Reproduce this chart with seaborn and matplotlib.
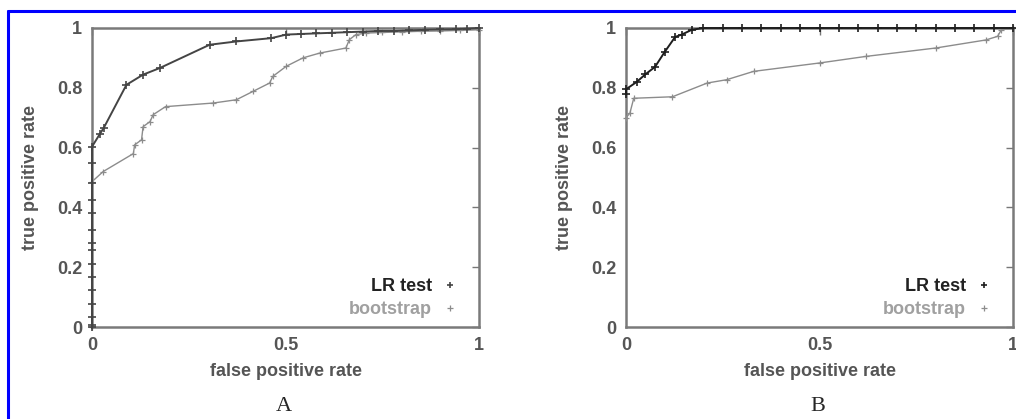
import matplotlib
matplotlib.use("Agg")
import matplotlib.pyplot as plt
from matplotlib.lines import Line2D
import seaborn as sns
import pandas as pd

# panel A
a_lr_fpr = [0, 0, 0, 0, 0, 0, 0, 0, 0, 0, 0, 0, 0, 0, 0, 0.02, 0.03, 0.089, 0.132, 0.175,
            0.304, 0.373, 0.463, 0.502, 0.54, 0.58, 0.62, 0.66, 0.7, 0.74, 0.78, 0.82,
            0.86, 0.9, 0.94, 0.97, 1.0]
a_lr_tpr = [0, 0.006, 0.034, 0.078, 0.123, 0.168, 0.212, 0.257, 0.28, 0.324, 0.38, 0.425,
            0.48, 0.547, 0.603, 0.645, 0.665, 0.81, 0.844, 0.866, 0.944, 0.955, 0.966,
            0.978, 0.98, 0.982, 0.984, 0.986, 0.988, 0.99, 0.99, 0.992, 0.994, 0.995,
            0.996, 0.998, 1.0]
a_bs_fpr = [0, 0, 0.029, 0.107, 0.11, 0.128, 0.132, 0.15, 0.158, 0.19, 0.313, 0.373, 0.416,
            0.459, 0.467, 0.502, 0.545, 0.588, 0.656, 0.665, 0.682, 0.708, 0.75, 0.8,
            0.85, 0.9, 0.95, 1.0]
a_bs_tpr = [0, 0.486, 0.52, 0.58, 0.609, 0.626, 0.67, 0.687, 0.71, 0.737, 0.749, 0.76,
            0.788, 0.816, 0.838, 0.872, 0.9, 0.916, 0.933, 0.961, 0.978, 0.983, 0.985,
            0.987, 0.989, 0.99, 0.992, 0.994]

# panel B
b_lr_fpr = [0, 0, 0.028, 0.05, 0.075, 0.1, 0.127, 0.144, 0.17, 0.2, 0.25, 0.3, 0.35, 0.4,
            0.45, 0.5, 0.55, 0.6, 0.65, 0.7, 0.75, 0.8, 0.85, 0.9, 0.95, 1.0]
b_lr_tpr = [0.78, 0.795, 0.82, 0.845, 0.87, 0.92, 0.97, 0.978, 0.994, 1.0, 1.0, 1.0, 1.0,
            1.0, 1.0, 1.0, 1.0, 1.0, 1.0, 1.0, 1.0, 1.0, 1.0, 1.0, 1.0, 1.0]
b_bs_fpr = [0, 0.01, 0.02, 0.12, 0.21, 0.26, 0.33, 0.5, 0.62, 0.8, 0.93, 0.96, 0.97, 1.0]
b_bs_tpr = [0.70, 0.715, 0.765, 0.77, 0.816, 0.827, 0.855, 0.883, 0.905, 0.933, 0.96,
            0.972, 0.994, 1.0]

panels = [
    ("A", a_lr_fpr, a_lr_tpr, a_bs_fpr, a_bs_tpr, "#444444"),
    ("B", b_lr_fpr, b_lr_tpr, b_bs_fpr, b_bs_tpr, "#1e1e1e"),
]

sns.set_style("white")
plt.rcParams["font.family"] = ["Liberation Sans", "DejaVu Sans"]

bs_color = "#8c8c8c"
txt_color = "#555555"
fs = 13

fig = plt.figure(figsize=(10.16, 4.19), dpi=100)
lefts = [92 / 1016, 626 / 1016]
w = 387 / 1016
bottom = 1 - 327 / 419
h = 299 / 419

for (name, lx, ly, bx, by, lr_color), left in zip(panels, lefts):
    ax = fig.add_axes([left, bottom, w, h])
    df_lr = pd.DataFrame({"fpr": lx, "tpr": ly})
    df_bs = pd.DataFrame({"fpr": bx, "tpr": by})
    sns.lineplot(data=df_bs, x="fpr", y="tpr", sort=False, estimator=None, ax=ax,
                 color=bs_color, lw=1.0, marker="+", markersize=5, mew=0.9,
                 markeredgecolor=bs_color, clip_on=False, zorder=4)
    sns.lineplot(data=df_lr, x="fpr", y="tpr", sort=False, estimator=None, ax=ax,
                 color=lr_color, lw=1.4, marker="+", markersize=5.5, mew=1.2,
                 markeredgecolor=lr_color, clip_on=False, zorder=5)
    ax.set_xlim(0, 1)
    ax.set_ylim(0, 1)
    ax.set_xticks([0, 0.5, 1])
    ax.set_xticklabels(["0", "0.5", "1"])
    ax.set_yticks([0, 0.2, 0.4, 0.6, 0.8, 1])
    ax.set_yticklabels(["0", "0.2", "0.4", "0.6", "0.8", "1"])
    ax.tick_params(direction="in", length=5, width=1, color="#777777",
                   top=True, right=True, labelsize=fs, labelcolor=txt_color, pad=7)
    for lab in ax.get_xticklabels() + ax.get_yticklabels():
        lab.set_fontweight("bold")
    for sp in ax.spines.values():
        sp.set_color("#7a7a7a")
        sp.set_linewidth(1.8)
    ax.set_xlabel("false positive rate", fontsize=fs, fontweight="bold",
                  color=txt_color, labelpad=7)
    ax.set_ylabel("true positive rate", fontsize=fs, fontweight="bold",
                  color=txt_color, labelpad=13)
    handles = [Line2D([], [], color=lr_color, marker="+", lw=0, markersize=5, mew=1.2),
               Line2D([], [], color=bs_color, marker="+", lw=0, markersize=5, mew=0.9)]
    leg = ax.legend(handles, ["LR test", "bootstrap"], loc="lower right",
                    bbox_to_anchor=(0.985, -0.025), frameon=False, markerfirst=False,
                    handlelength=0.8, handletextpad=0.6, labelspacing=0.35,
                    prop={"size": fs, "weight": "bold"})
    leg.get_texts()[0].set_color("#222222")
    leg.get_texts()[1].set_color("#a0a0a0")
    fig.text(left + w / 2 - 0.002, 1 - 406 / 419, name, ha="center", va="center",
             fontsize=16, family=["Liberation Serif", "DejaVu Serif"])

# blue frame of the original figure
fig.add_artist(Line2D([8 / 1016, 1], [1 - 11 / 419, 1 - 11 / 419],
                      transform=fig.transFigure, color="#0000ff", lw=2.2))
fig.add_artist(Line2D([8 / 1016, 8 / 1016], [0, 1 - 11 / 419],
                      transform=fig.transFigure, color="#0000ff", lw=2.2))

fig.savefig("out.png", dpi=100)
